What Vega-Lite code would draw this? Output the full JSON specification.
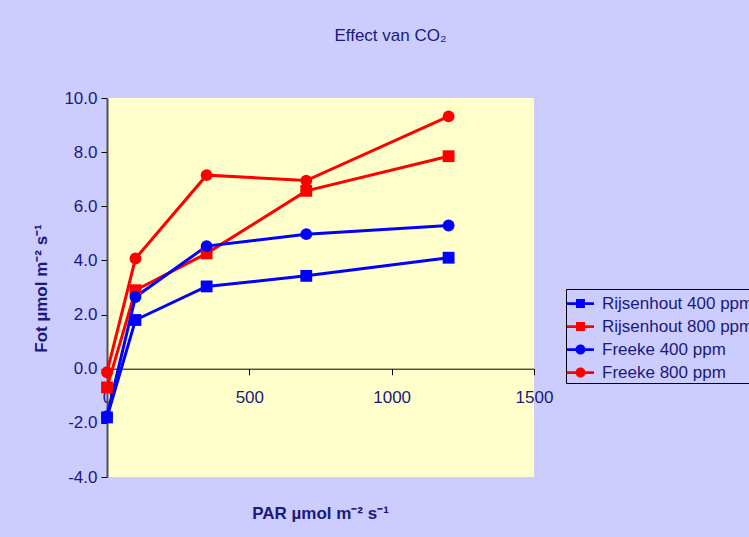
{
  "$schema": "https://vega.github.io/schema/vega-lite/v6.json",
  "width": 427,
  "height": 379,
  "autosize": {"type": "none"},
  "padding": {"left": 107, "top": 98, "right": 215, "bottom": 60},
  "background": "#CCCCFF",
  "title": {
    "text": "Effect van CO₂",
    "font": "Liberation Sans",
    "fontSize": 17,
    "fontWeight": "normal",
    "color": "#1a1a7a",
    "anchor": "middle",
    "dx": 70,
    "offset": 31,
    "baseline": "alphabetic"
  },
  "config": {
    "view": {"fill": "#FFFFCC", "stroke": null},
    "axis": {"labelFont": "Liberation Sans", "titleFont": "Liberation Sans", "labelColor": "#1a1a7a", "titleColor": "#1a1a7a", "grid": false},
    "legend": {"labelFont": "Liberation Sans"}
  },
  "data": {
    "values": [
      {"series": "Rijsenhout 400 ppm", "par": 0, "fot": -1.8},
      {"series": "Rijsenhout 400 ppm", "par": 100, "fot": 1.8},
      {"series": "Rijsenhout 400 ppm", "par": 350, "fot": 3.04},
      {"series": "Rijsenhout 400 ppm", "par": 700, "fot": 3.43},
      {"series": "Rijsenhout 400 ppm", "par": 1200, "fot": 4.1},
      {"series": "Rijsenhout 800 ppm", "par": 0, "fot": -0.69},
      {"series": "Rijsenhout 800 ppm", "par": 100, "fot": 2.9},
      {"series": "Rijsenhout 800 ppm", "par": 350, "fot": 4.26},
      {"series": "Rijsenhout 800 ppm", "par": 700, "fot": 6.57},
      {"series": "Rijsenhout 800 ppm", "par": 1200, "fot": 7.85},
      {"series": "Freeke 400 ppm", "par": 0, "fot": -1.75},
      {"series": "Freeke 400 ppm", "par": 100, "fot": 2.65},
      {"series": "Freeke 400 ppm", "par": 350, "fot": 4.53},
      {"series": "Freeke 400 ppm", "par": 700, "fot": 4.97},
      {"series": "Freeke 400 ppm", "par": 1200, "fot": 5.29},
      {"series": "Freeke 800 ppm", "par": 0, "fot": -0.13},
      {"series": "Freeke 800 ppm", "par": 100, "fot": 4.07},
      {"series": "Freeke 800 ppm", "par": 350, "fot": 7.15},
      {"series": "Freeke 800 ppm", "par": 700, "fot": 6.95},
      {"series": "Freeke 800 ppm", "par": 1200, "fot": 9.32}
    ]
  },
  "encoding": {
    "x": {
      "field": "par",
      "type": "quantitative",
      "scale": {"domain": [0, 1500], "nice": false, "zero": false},
      "axis": {
        "orient": "bottom",
        "offset": -108.3,
        "values": [0, 500, 1000, 1500],
        "format": "d",
        "domainColor": "#000000",
        "domainWidth": 1,
        "tickColor": "#000000",
        "tickSize": 6,
        "labelFontSize": 17,
        "labelPadding": 15,
        "labelFlush": false,
        "title": "PAR µmol m⁻² s⁻¹",
        "titleFontSize": 17,
        "titleFontWeight": "bold",
        "titleX": 213,
        "titleY": 145,
        "titleBaseline": "middle",
        "titleAlign": "center"
      }
    },
    "y": {
      "field": "fot",
      "type": "quantitative",
      "scale": {"domain": [-4, 10], "nice": false, "zero": false},
      "axis": {
        "values": [-4, -2, 0, 2, 4, 6, 8, 10],
        "labelExpr": "replace(format(datum.value, '.1f'), '−', '-')",
        "domainColor": "#505050",
        "domainWidth": 2,
        "tickColor": "#000000",
        "tickSize": 6,
        "labelFontSize": 17,
        "labelPadding": 4,
        "labelFlush": false,
        "title": "Fot µmol m⁻² s⁻¹",
        "titleFontSize": 17,
        "titleFontWeight": "bold",
        "titleAngle": 270,
        "titleX": -66,
        "titleY": 190,
        "titleBaseline": "middle",
        "titleAlign": "center"
      }
    }
  },
  "layer": [
    {
      "mark": {"type": "line", "strokeWidth": 3},
      "encoding": {
        "color": {
          "field": "series",
          "type": "nominal",
          "scale": {
            "domain": ["Rijsenhout 400 ppm", "Rijsenhout 800 ppm", "Freeke 400 ppm", "Freeke 800 ppm"],
            "range": ["#0000FF", "#FF0000", "#0000FF", "#FF0000"]
          },
          "legend": null
        }
      }
    },
    {
      "mark": {"type": "point", "filled": true, "opacity": 1, "size": 140},
      "encoding": {
        "color": {
          "field": "series",
          "type": "nominal",
          "scale": {
            "domain": ["Rijsenhout 400 ppm", "Rijsenhout 800 ppm", "Freeke 400 ppm", "Freeke 800 ppm"],
            "range": ["#0000FF", "#FF0000", "#0000FF", "#FF0000"]
          },
          "legend": null
        },
        "shape": {
          "field": "series",
          "type": "nominal",
          "scale": {
            "domain": ["Rijsenhout 400 ppm", "Rijsenhout 800 ppm", "Freeke 400 ppm", "Freeke 800 ppm"],
            "range": ["square", "square", "circle", "circle"]
          },
          "legend": null
        }
      }
    },
    {
      "mark": {"type": "point", "filled": true, "opacity": 0, "size": 10},
      "encoding": {
        "color": {
          "field": "series",
          "type": "nominal",
          "scale": {
            "domain": ["Rijsenhout 400 ppm", "Rijsenhout 800 ppm", "Freeke 400 ppm", "Freeke 800 ppm"],
            "range": ["#0000FF", "#FF0000", "#0000FF", "#FF0000"]
          },
          "legend": {
            "orient": "none",
            "legendX": 459,
            "legendY": 191,
            "title": null,
            "strokeColor": "#000000",
            "padding": 2,
            "rowPadding": 2,
            "symbolSize": 625,
            "symbolOpacity": 1,
            "symbolStrokeWidth": 0,
            "labelOffset": 9,
            "labelFontSize": 17,
            "labelColor": "#1a1a7a",
            "labelLimit": 300
          }
        },
        "shape": {
          "field": "series",
          "type": "nominal",
          "scale": {
            "domain": ["Rijsenhout 400 ppm", "Rijsenhout 800 ppm", "Freeke 400 ppm", "Freeke 800 ppm"],
            "range": [
              "M-1.08,-0.11H1.08V0.11H-1.08Z M-0.36,-0.36H0.36V0.36H-0.36Z",
              "M-1.08,-0.11H1.08V0.11H-1.08Z M-0.36,-0.36H0.36V0.36H-0.36Z",
              "M-1.08,-0.11H1.08V0.11H-1.08Z M-0.4,0A0.4,0.4 0 1,1 0.4,0A0.4,0.4 0 1,1 -0.4,0Z",
              "M-1.08,-0.11H1.08V0.11H-1.08Z M-0.4,0A0.4,0.4 0 1,1 0.4,0A0.4,0.4 0 1,1 -0.4,0Z"
            ]
          },
          "legend": {
            "orient": "none",
            "legendX": 459,
            "legendY": 191,
            "title": null,
            "strokeColor": "#000000",
            "padding": 2,
            "rowPadding": 2,
            "symbolSize": 625,
            "symbolOpacity": 1,
            "symbolStrokeWidth": 0,
            "labelOffset": 9,
            "labelFontSize": 17,
            "labelColor": "#1a1a7a",
            "labelLimit": 300
          }
        }
      }
    }
  ],
  "resolve": {"scale": {"shape": "independent", "color": "independent"}}
}
